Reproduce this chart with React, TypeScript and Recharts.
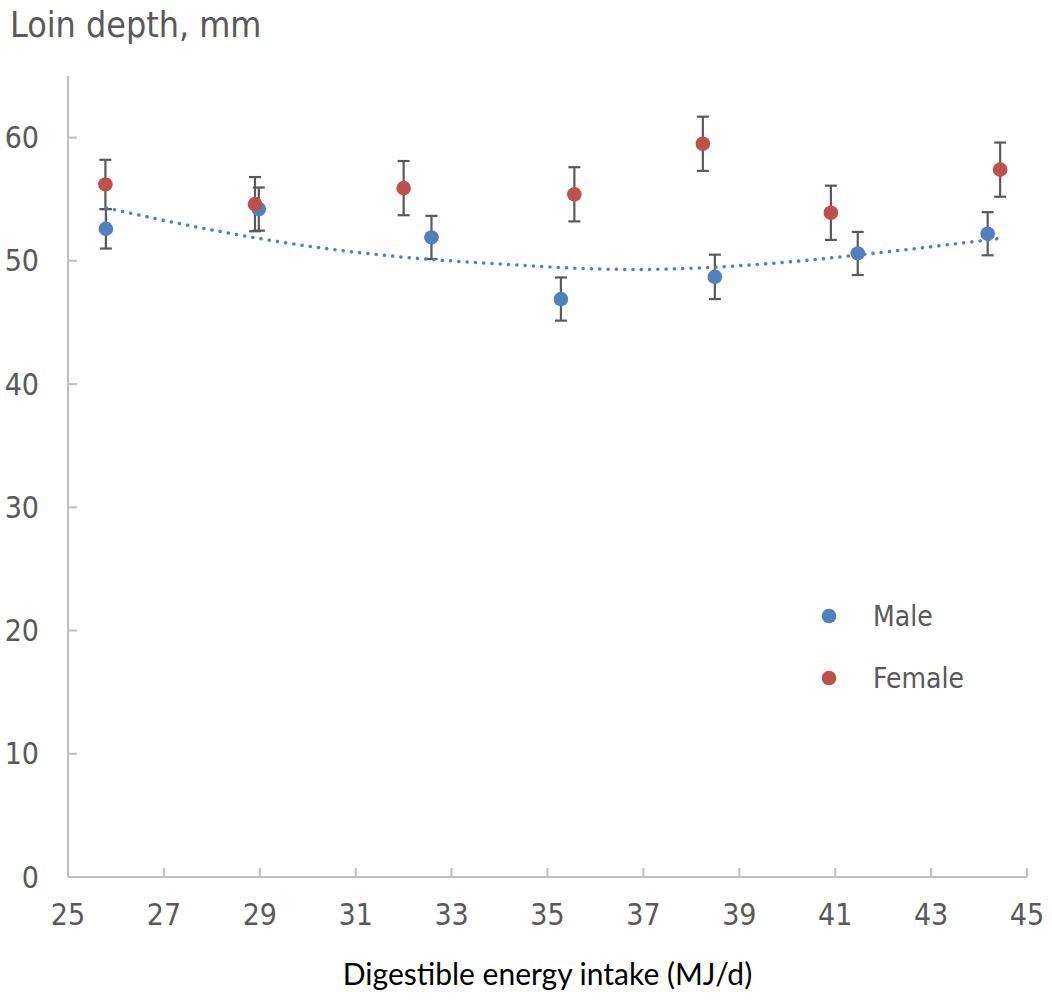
import React from 'react';
import {
  ComposedChart,
  Scatter,
  Line,
  XAxis,
  YAxis,
  ErrorBar,
  Label,
} from 'recharts';

// Male pigs: mean loin depth (mm) with SE, by digestible energy intake
const maleIntake = [25.79, 28.98, 32.58, 35.28, 38.49, 41.47, 44.18];
const maleDepth = [52.6, 54.2, 51.9, 46.9, 48.7, 50.6, 52.2];
const maleSe = [1.6, 1.75, 1.75, 1.75, 1.8, 1.75, 1.75];

// Female pigs
const femaleIntake = [25.78, 28.9, 32.0, 35.56, 38.24, 40.91, 44.44];
const femaleDepth = [56.2, 54.6, 55.9, 55.4, 59.5, 53.9, 57.4];
const femaleSe = [2.0, 2.2, 2.2, 2.2, 2.2, 2.2, 2.2];

// Polynomial trend for males, sampled along the intake range
const trendIntake = [25.8, 28, 30, 32, 34, 36, 37, 38, 40, 42, 44.4];
const trendDepth = [54.3, 52.5, 51.2, 50.3, 49.75, 49.35, 49.3, 49.4, 49.9, 50.7, 51.8];

const xTicks = [25, 27, 29, 31, 33, 35, 37, 39, 41, 43, 45];
const yTicks = [0, 10, 20, 30, 40, 50, 60];

const BLUE = '#4f81bd';
const RED = '#c0504d';
const GREY = '#595959';
const AXIS = '#bfbfbf';
const TICK_FONT = "'DejaVu Sans Condensed', 'DejaVu Sans', sans-serif";

const maleData = maleIntake.map((x, i) => ({ x, y: maleDepth[i], err: maleSe[i] }));
const femaleData = femaleIntake.map((x, i) => ({ x, y: femaleDepth[i], err: femaleSe[i] }));
const trendData = trendIntake.map((x, i) => ({ x, y: trendDepth[i] }));

const dot = (color: string) => (props: any) => (
  <circle cx={props.cx} cy={props.cy} r={7.3} fill={color} />
);

const tickStyle = { fontSize: 30, fill: GREY, fontFamily: TICK_FONT };

export default function App() {
  return (
    <div style={{ position: 'absolute', left: 0, top: 0, width: 1052, height: 1001, background: '#fff' }}>
      <div
        style={{
          position: 'absolute',
          left: 10,
          top: 4,
          fontFamily: TICK_FONT,
          fontSize: 35.5,
          color: GREY,
        }}
      >
        Loin depth, mm
      </div>

      <ComposedChart
        width={1052}
        height={1001}
        margin={{ top: 76, right: 25, bottom: 0, left: 0 }}
      >
        <XAxis
          type="number"
          dataKey="x"
          domain={[25, 45]}
          ticks={xTicks}
          allowDataOverflow
          height={124}
          stroke={AXIS}
          strokeWidth={2}
          tickSize={-9}
          tickMargin={36}
          tick={tickStyle}
        >
          <Label
            value="Digestible energy intake (MJ/d)"
            position="insideBottom"
            offset={16}
            style={{ fontSize: 30, fill: '#000', fontFamily: 'Lato, sans-serif' }}
          />
        </XAxis>
        <YAxis
          type="number"
          dataKey="y"
          domain={[0, 65]}
          ticks={yTicks}
          allowDataOverflow
          width={68}
          stroke={AXIS}
          strokeWidth={2}
          tickSize={-9}
          tickMargin={38}
          tick={tickStyle}
        />
        <Scatter data={maleData} shape={dot(BLUE)} isAnimationActive={false}>
          <ErrorBar dataKey="err" direction="y" width={6} stroke={GREY} strokeWidth={2.2} />
        </Scatter>
        <Scatter data={femaleData} shape={dot(RED)} isAnimationActive={false}>
          <ErrorBar dataKey="err" direction="y" width={6} stroke={GREY} strokeWidth={2.2} />
        </Scatter>
        <Line
          data={trendData}
          dataKey="y"
          type="monotone"
          stroke={BLUE}
          strokeWidth={3.5}
          strokeDasharray="0.1 8.2"
          strokeLinecap="round"
          dot={false}
          activeDot={false}
          isAnimationActive={false}
        />
      </ComposedChart>

      {/* series key */}
      <div style={{ position: 'absolute', left: 820, top: 585, fontFamily: TICK_FONT, fontSize: 28, color: GREY }}>
        {[
          { name: 'Male', color: BLUE },
          { name: 'Female', color: RED },
        ].map((s) => (
          <div key={s.name} style={{ display: 'flex', alignItems: 'center', height: 62 }}>
            <svg width={18} height={18} style={{ marginRight: 35 }}>
              <circle cx={9} cy={9} r={7.3} fill={s.color} />
            </svg>
            <span>{s.name}</span>
          </div>
        ))}
      </div>
    </div>
  );
}
